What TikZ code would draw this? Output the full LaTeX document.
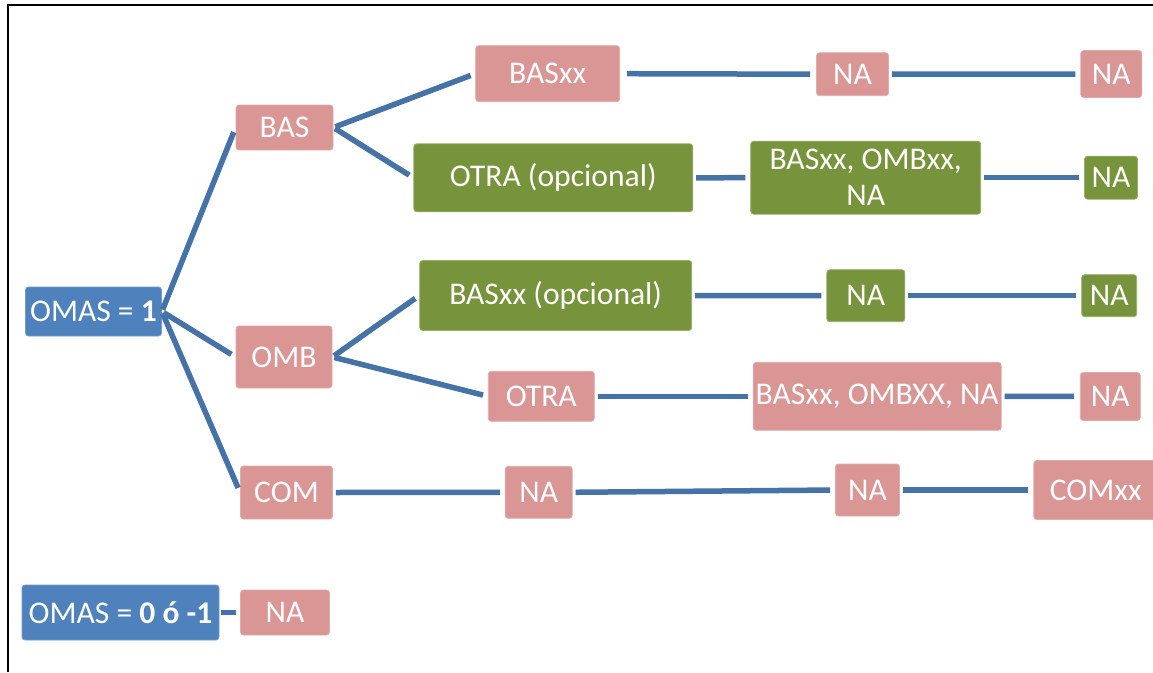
\documentclass[tikz,border=0pt]{standalone}
\usepackage{fontspec}
\setmainfont{Carlito}
\definecolor{pinkc}{RGB}{217,150,148}
\definecolor{greenc}{RGB}{119,147,60}
\definecolor{bluec}{RGB}{79,129,189}
\definecolor{linec}{RGB}{69,114,167}
\begin{document}
\begin{tikzpicture}[x=1pt,y=-1pt,
  box/.style={rounded corners=3pt, inner sep=0pt, text=white, align=center,
    font=\fontsize{31.6}{36}\selectfont, line width=0.8pt},
  pinkbox/.style={box, fill=pinkc, draw=pinkc!80!white},
  greenbox/.style={box, fill=greenc, draw=greenc!75!white},
  bluebox/.style={box, fill=bluec, draw=bluec!80!white},
  conn/.style={line width=5.5pt, draw=linec, shorten <=2pt, shorten >=5pt},
  sz/.style 2 args={minimum width=#1pt, minimum height=#2pt}]
\useasboundingbox (0,0) rectangle (1153,672);
\fill[white] (0,0) rectangle (1153,672);
\draw[line width=1.6pt] (8,672) -- (8,5) -- (1153,5);

\node[bluebox, sz={136}{49}] (o1) at (93.5,311.5) {OMAS = \textbf{1}};
\node[bluebox, sz={197}{55}] (o0) at (120.5,612.5) {OMAS = \textbf{0 ó -1}};
\node[pinkbox, sz={89}{45}] (na0) at (285,612.5) {NA};

\node[pinkbox, sz={97}{45}] (bas) at (284.5,127.5) {BAS};
\node[pinkbox, sz={96}{62}] (omb) at (284,357) {OMB};
\node[pinkbox, sz={92}{53}] (com) at (286.5,492.5) {COM};

\node[pinkbox, sz={144}{56}] (basxx) at (547.7,73.7) {BASxx};
\node[pinkbox, sz={72}{43}] (na1) at (852.5,74.2) {NA};
\node[pinkbox, sz={61}{47}] (na2) at (1111.3,74) {NA};

\node[greenbox, sz={279}{68}] (otraopc) at (553.3,177.8) {OTRA (opcional)};
\node[greenbox, sz={230}{73}] (bom1) at (865.7,177.7) {BASxx, OMBxx,\\NA};
\node[greenbox, sz={53}{43}] (na3) at (1111,177.7) {NA};

\node[greenbox, sz={272}{70}] (basopc) at (555.7,295.5) {BASxx (opcional)};
\node[greenbox, sz={78}{52}] (na4) at (865.8,295.7) {NA};
\node[greenbox, sz={55}{42}] (na5) at (1109.2,295.7) {NA};

\node[pinkbox, sz={106}{50}] (otra) at (541.3,396.3) {OTRA};
\node[pinkbox, sz={248}{68}] (bom2) at (877.2,396.3) {BASxx, OMBXX, NA};
\node[pinkbox, sz={60}{48}] (na6) at (1110.3,396.5) {NA};

\node[pinkbox, sz={67}{52}] (na7) at (538.7,492.3) {NA};
\node[pinkbox, sz={64}{52}] (na8) at (867.5,490) {NA};
\node[pinkbox, sz={124}{59}] (comxx) at (1095.8,490) {COMxx};

\draw[conn] (o1.east) -- (bas.west);
\draw[conn] (o1.east) -- (omb.west);
\draw[conn] (o1.east) -- (com.west);
\draw[conn, shorten >=4pt] (o0.east) -- (na0.west);

\draw[conn] (bas.east) -- (basxx.west);
\draw[conn] (bas.east) -- (otraopc.west);
\draw[conn] (omb.east) -- (basopc.west);
\draw[conn] (omb.east) -- (otra.west);

\draw[conn, shorten <=7pt, shorten >=6pt] (basxx.east) -- (na1.west);
\draw[conn, shorten <=3pt, shorten >=5pt] (na1.east) -- (na2.west);
\draw[conn, shorten <=3pt, shorten >=5pt] (otraopc.east) -- (bom1.west);
\draw[conn, shorten <=3pt, shorten >=5pt] (bom1.east) -- (na3.west);
\draw[conn, shorten <=3pt, shorten >=5pt] (basopc.east) -- (na4.west);
\draw[conn, shorten <=3pt, shorten >=5pt] (na4.east) -- (na5.west);
\draw[conn, shorten <=3pt, shorten >=5pt] (otra.east) -- (bom2.west);
\draw[conn, shorten <=3pt, shorten >=6pt] (bom2.east) -- (na6.west);
\draw[conn, shorten <=3pt, shorten >=5pt] (com.east) -- (na7.west);
\draw[conn, shorten <=3pt, shorten >=5pt] (na7.east) -- (na8.west);
\draw[conn, shorten <=3pt, shorten >=5pt] (na8.east) -- (comxx.west);
\end{tikzpicture}
\end{document}
